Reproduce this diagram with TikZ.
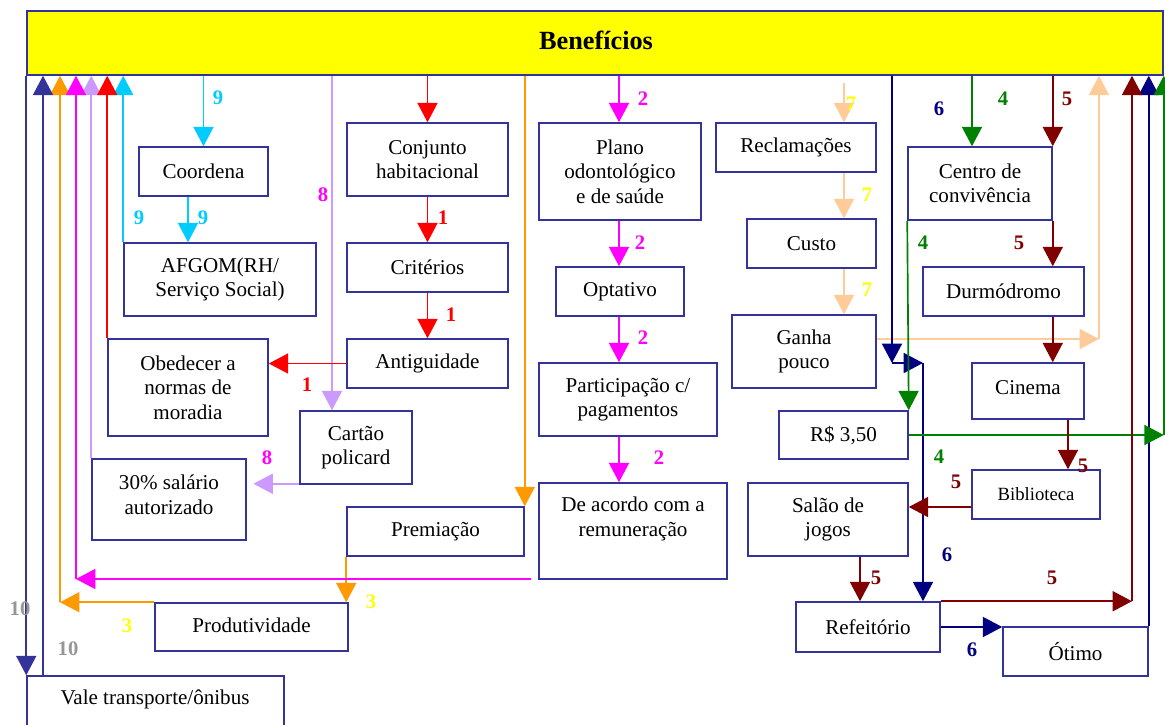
\documentclass[tikz,border=0pt]{standalone}
\usepackage{fontspec}
\setmainfont{Liberation Serif}
\usetikzlibrary{arrows.meta,calc}
\definecolor{bord}{HTML}{333399}
\definecolor{cyanc}{HTML}{00CCFF}
\definecolor{lav}{HTML}{CC99FF}
\definecolor{orng}{HTML}{FF9900}
\definecolor{mag}{HTML}{FF00FF}
\definecolor{peach}{HTML}{FFCC99}
\definecolor{navyc}{HTML}{000080}
\definecolor{grn}{HTML}{008000}
\definecolor{dred}{HTML}{800000}
\definecolor{grayl}{HTML}{969696}
\definecolor{yell}{HTML}{FFFF00}
\definecolor{redc}{HTML}{FF0000}
\definecolor{yfill}{HTML}{FFFF00}
\newcommand\mkbox[7][]{\node[box,#1,minimum width={(#5-#3)*0.75pt},minimum height={(#6-#4)*0.75pt}] (#2) at ({(#3+#5)/2},{(#4+#6)/2}) {#7};}
\begin{document}
\begin{tikzpicture}[x=0.75pt,y=-0.75pt,
 box/.style={draw=bord, line width=1.15pt, inner sep=0pt, align=center, font=\fontsize{15.8}{18.4}\selectfont},
 txt/.style={inner sep=0pt, align=center, font=\fontsize{15.8}{18.4}\selectfont},
 lbl/.style={font=\bfseries\fontsize{15.5}{18}\selectfont, inner sep=0pt},
 arr/.style={line width=1.25pt, -{Triangle[width=15pt,length=14.5pt]}},
]
\useasboundingbox (0,0) rectangle (1165,725);

% boxes
\mkbox[fill=yfill]{ben}{27}{11}{1163}{75}{}
\node[inner sep=0pt, font=\bfseries\fontsize{19.7}{22}\selectfont] (bentxt) at (596,40) {Benefícios};
\mkbox{coord}{139}{147}{268}{196}{Coordena}
\mkbox{afgom}{124}{243}{316}{316}{AFGOM(RH/\\Serviço Social)}
\mkbox{conj}{347}{123}{508}{196}{Conjunto\\habitacional}
\mkbox{crit}{347}{243}{508}{292}{Critérios}
\mkbox{antig}{347}{339}{508}{388}{Antiguidade}
\mkbox{obed}{108}{339}{268}{436}{Obedecer a\\normas de\\moradia}
\mkbox{cartao}{300}{411}{412}{484}{Cartão\\policard}
\mkbox{pct}{92}{459}{246}{540}{}
\node[txt] (pcttxt) at (169,495) {30\% salário\\autorizado};
\mkbox{prem}{347}{507}{524}{556}{Premiação}
\mkbox{prod}{155}{603}{348}{651}{}
\node[txt] (prodtxt) at (251.5,625) {Produtividade};
\mkbox{vale}{27}{676}{284}{745}{}
\node[txt] (valetxt) at (155,699) {Vale transporte/ônibus};
\mkbox{plano}{539}{123}{701}{220}{Plano\\odontológico\\e de saúde}
\mkbox{opt}{556}{267}{684}{316}{Optativo}
\mkbox{part}{539}{363}{717}{436}{Participação c/\\pagamentos}
\mkbox{acordo}{539}{483}{727}{579}{}
\node[txt] (acordotxt) at (633,519) {De acordo com a\\remuneração};
\mkbox{recl}{716}{123}{876}{172}{Reclamações}
\mkbox{custo}{747}{219}{876}{268}{Custo}
\mkbox{ganha}{732}{315}{876}{388}{Ganha\\pouco}
\mkbox{centro}{908}{147}{1052}{220}{Centro de\\convivência}
\mkbox{durm}{923}{267}{1084}{316}{Durmódromo}
\mkbox{cine}{972}{363}{1084}{419}{}
\node[txt] (cinetxt) at (1028,388) {Cinema};
\mkbox{rs}{779}{411}{908}{459}{R\$ 3,50}
\mkbox[font=\fontsize{14}{16}\selectfont]{bib}{972}{470}{1100}{519}{Biblioteca}
\mkbox{salao}{748}{483}{908}{556}{Salão de\\jogos}
\mkbox{refe}{796}{602}{940}{652}{Refeitório}
\mkbox{otimo}{1003}{627}{1148}{676}{Ótimo}

% helper coordinates
\coordinate (x9b) at (188,0);
\coordinate (x8) at (332,0);
\coordinate (x3) at (60,0);
\coordinate (x2) at (619,0);
\coordinate (m0) at (531,579);
\coordinate (x2b) at (76,0);
\coordinate (x10) at (43,0);
\coordinate (p0) at (844,83);
\coordinate (p1) at (1099,339);
\coordinate (n1) at (892,363);
\coordinate (n2) at (923,363);
\coordinate (g1) at (972,0);
\coordinate (d1) at (1068,0);
\coordinate (d2) at (0,507);
\coordinate (d3) at (860,0);
\coordinate (d4) at (1132,0);

% 9 cyan
\draw[arr,cyanc] (coord.north |- ben.south) -- (coord.north);
\draw[arr,cyanc] (coord.south -| x9b) -- (afgom.north -| x9b);
\draw[arr,cyanc] (afgom.north west) -- (afgom.north west |- ben.south);
% 8 lavender
\draw[arr,lav] (ben.south -| x8) -- (cartao.north -| x8);
\draw[arr,lav,shorten >=5pt] ([yshift=0.75pt]cartao.south west) -- ([yshift=0.75pt]cartao.south west -| pct.east);
\draw[arr,lav] (pct.north west) -- (pct.north west |- ben.south);
% 1 red
\draw[arr,redc] (conj.north |- ben.south) -- (conj.north);
\draw[arr,redc] (conj.south) -- (crit.north);
\draw[arr,redc] (crit.south) -- (antig.north);
\draw[arr,redc] (antig.west) -- (antig.west -| obed.east);
\draw[arr,redc] (obed.north west) -- (obed.north west |- ben.south);
% 3 orange
\draw[arr,orng] (prem.north east |- ben.south) -- (prem.north east);
\draw[arr,orng] (prem.south west) -- (prem.south west |- prod.north);
\draw[arr,orng] (prod.north west) -- (prod.north west -| x3);
\draw[arr,orng] (prod.north west -| x3) -- (x3 |- ben.south);
% 2 magenta
\draw[arr,mag] (ben.south -| x2) -- (plano.north -| x2);
\draw[arr,mag] (plano.south -| x2) -- (opt.north -| x2);
\draw[arr,mag] (opt.south -| x2) -- (part.north -| x2);
\draw[arr,mag] (part.south -| x2) -- (acordo.north -| x2);
\draw[arr,mag] (m0) -- (m0 -| x2b);
\draw[arr,mag] (m0 -| x2b) -- (x2b |- ben.south);
% 10
\draw[arr,bord] (ben.south west) -- (vale.north west);
\draw[arr,bord] (vale.north -| x10) -- (ben.south -| x10);
% 7 peach
\draw[arr,peach] (p0) -- (recl.north -| p0);
\draw[arr,peach] (recl.south -| p0) -- (custo.north -| p0);
\draw[arr,peach] (custo.south -| p0) -- (ganha.north -| p0);
\draw[arr,peach] (ganha.east |- p1) -- (p1);
\draw[arr,peach] (p1) -- (p1 |- ben.south);
% 6 navy
\draw[arr,navyc] (ben.south -| n1) -- (n1);
\draw[arr,navyc] (n1) -- (n2);
\draw[arr,navyc] (n2) -- (refe.north -| n2);
\draw[arr,navyc] (refe.east) -- (otimo.west |- refe.east);
\draw[arr,navyc] (otimo.north east) -- (otimo.north east |- ben.south);
% 4 green
\draw[arr,grn] (ben.south -| g1) -- (centro.north -| g1);
\draw[arr,grn] (centro.south west) -- (rs.north east);
\draw[arr,grn] (rs.east) -- (rs.east -| ben.south east);
\draw[arr,grn] (rs.east -| ben.south east) -- (ben.south east);
% 5 dark red
\draw[arr,dred] (centro.north east |- ben.south) -- (centro.north east);
\draw[arr,dred] (centro.south east) -- (centro.south east |- durm.north);
\draw[arr,dred] (durm.south -| centro.east) -- (cine.north -| centro.east);
\draw[arr,dred] (cine.south -| d1) -- (bib.north -| d1);
\draw[arr,dred] (bib.west |- d2) -- (salao.east |- d2);
\draw[arr,dred] (salao.south -| d3) -- (refe.north -| d3);
\draw[arr,dred] (refe.north east) -- (refe.north east -| d4);
\draw[arr,dred] (refe.north east -| d4) -- (d4 |- ben.south);

% labels
\node[lbl,text=cyanc] (l9a) at (218,98) {9};
\node[lbl,text=cyanc] (l9b) at (139,218) {9};
\node[lbl,text=cyanc] (l9c) at (203,218) {9};
\node[lbl,text=mag] (l8a) at (323,195) {8};
\node[lbl,text=mag] (l8b) at (267,458) {8};
\node[lbl,text=redc] (l1a) at (443,218) {1};
\node[lbl,text=redc] (l1b) at (451,315) {1};
\node[lbl,text=redc] (l1c) at (307,385) {1};
\node[lbl,text=mag] (l2a) at (643,99) {2};
\node[lbl,text=mag] (l2b) at (640,243) {2};
\node[lbl,text=mag] (l2c) at (643,338) {2};
\node[lbl,text=mag] (l2d) at (659,458) {2};
\node[lbl,text=yell] (l3a) at (371,602) {3};
\node[lbl,text=yell] (l3b) at (127,626) {3};
\node[lbl,text=grayl] (l10a) at (20,609) {10};
\node[lbl,text=grayl] (l10b) at (68,649) {10};
\node[lbl,text=yell] (l7a) at (851,104) {7};
\node[lbl,text=yell] (l7b) at (867,195) {7};
\node[lbl,text=yell] (l7c) at (867,290) {7};
\node[lbl,text=navyc] (l6a) at (939,109) {6};
\node[lbl,text=grn] (l4a) at (1003,99) {4};
\node[lbl,text=dred] (l5a) at (1067,99) {5};
\node[lbl,text=grn] (l4b) at (923,243) {4};
\node[lbl,text=dred] (l5b) at (1019,243) {5};
\node[lbl,text=grn] (l4c) at (939,457) {4};
\node[lbl,text=dred] (l5c) at (956,482) {5};
\node[lbl,text=dred] (l5d) at (1083,466) {5};
\node[lbl,text=navyc] (l6b) at (947,555) {6};
\node[lbl,text=dred] (l5e) at (876,578) {5};
\node[lbl,text=dred] (l5f) at (1052,578) {5};
\node[lbl,text=navyc] (l6c) at (972,650) {6};
\end{tikzpicture}
\end{document}
